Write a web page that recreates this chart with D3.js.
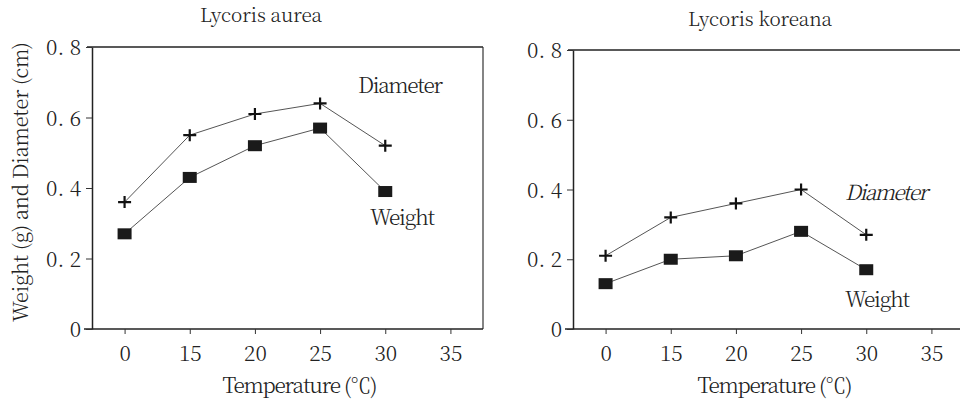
<!DOCTYPE html>
<html><head><meta charset="utf-8">
<script src="https://cdn.jsdelivr.net/npm/d3@7"></script>
</head><body style="margin:0;background:#fff"><svg id="c" width="960" height="405"></svg>
<script>
const temps = ["0","15","20","25","30","35"];
const dataTemps = ["0","15","20","25","30"];
const yTicks = [0, 0.2, 0.4, 0.6, 0.8];
const yTickLabels = ["0", "0. 2", "0. 4", "0. 6", "0. 8"];
const aureaDiameter = [0.36, 0.55, 0.61, 0.64, 0.52];
const aureaWeight = [0.27, 0.43, 0.52, 0.57, 0.39];
const koreanaDiameter = [0.21, 0.32, 0.36, 0.40, 0.27];
const koreanaWeight = [0.13, 0.20, 0.21, 0.28, 0.17];
const titles = ["Lycoris aurea", "Lycoris koreana"];
const xLabel = "Temperature (℃)";
const yLabel = "Weight (g) and Diameter (cm)";

const FONT = '"Noto Serif CJK SC", "Liberation Serif", serif';
const W = 300;
const svg = d3.select("#c");

const panels = [
  {title: titles[0], left: 92, right: 483, top: 47, bottom: 329, dia: aureaDiameter, wt: aureaWeight,
   titleX: 261, titleY: 22, titleLen: 122, xlabX: 300, xlabLen: 155, boxRight: true,
   diaLab: {x: 358, y: 93, len: 85, italic: false}, wtLab: {x: 370, y: 225, len: 65, italic: false}},
  {title: titles[1], left: 573, right: 964, top: 50, bottom: 329, dia: koreanaDiameter, wt: koreanaWeight,
   titleX: 760, titleY: 26, titleLen: 144, xlabX: 775, xlabLen: 155, boxRight: false,
   diaLab: {x: 845, y: 200, len: 83, italic: true}, wtLab: {x: 845, y: 307, len: 65, italic: false}}
];

panels.forEach((p) => {
  const x = d3.scalePoint().domain(temps).range([p.left, p.right]).padding(0.5);
  const y = d3.scaleLinear().domain([0, 0.8]).range([p.bottom, p.top]);
  const g = svg.append("g");

  g.append("line").attr("x1", p.left - 5).attr("x2", Math.min(p.right, 960)).attr("y1", y(0.8)).attr("y2", y(0.8))
    .attr("stroke", "#222").attr("stroke-width", 1.5);
  if (p.boxRight) g.append("line").attr("x1", p.right).attr("x2", p.right).attr("y1", y(0.8)).attr("y2", y(0))
    .attr("stroke", "#333").attr("stroke-width", 1.2);

  const xa = g.append("g").attr("transform", `translate(0,${p.bottom})`)
    .call(d3.axisBottom(x).tickSize(5).tickSizeOuter(0).tickPadding(9));
  xa.select(".domain").attr("stroke", "#222").attr("stroke-width", 1.5)
    .attr("d", `M${p.left - 8},0H${p.right}`);
  xa.selectAll(".tick line").attr("stroke", "#333");
  xa.selectAll(".tick text").style("font-family", FONT).style("font-size", "21px").style("font-weight", W)
    .attr("fill", "#222").attr("dy", "0.85em");

  const ya = g.append("g").attr("transform", `translate(${p.left},0)`)
    .call(d3.axisLeft(y).tickValues(yTicks).tickFormat((d, i) => yTickLabels[i]).tickSize(6).tickSizeOuter(0).tickPadding(5));
  ya.select(".domain").attr("stroke", "#222").attr("stroke-width", 1.5);
  ya.selectAll(".tick line").attr("stroke", "#333");
  ya.selectAll(".tick text").style("font-family", FONT).style("font-size", "21px").style("font-weight", W)
    .attr("fill", "#222").attr("dy", "0.36em");

  g.append("text").attr("x", p.titleX).attr("y", p.titleY).attr("text-anchor", "middle")
    .style("font-family", FONT).style("font-size", "19px").style("font-weight", W).attr("fill", "#222")
    .attr("textLength", p.titleLen).text(p.title);
  g.append("text").attr("x", p.xlabX).attr("y", 393).attr("text-anchor", "middle")
    .style("font-family", FONT).style("font-size", "21px").style("font-weight", W).attr("fill", "#222")
    .attr("textLength", p.xlabLen).text(xLabel);

  const line = d3.line().x((d, i) => x(dataTemps[i])).y(d => y(d));
  [p.dia, p.wt].forEach(s => {
    g.append("path").datum(s).attr("d", line).attr("fill", "none").attr("stroke", "#555").attr("stroke-width", 1);
  });
  g.selectAll(".plus").data(p.dia).join("path").attr("class", "plus")
    .attr("d", (d, i) => { const cx = x(dataTemps[i]), cy = y(d); return `M${cx-6.5},${cy}H${cx+6.5}M${cx},${cy-6}V${cy+6}`; })
    .attr("stroke", "#111").attr("stroke-width", 2.2).attr("fill", "none");
  g.selectAll(".sq").data(p.wt).join("rect").attr("class", "sq")
    .attr("x", (d, i) => x(dataTemps[i]) - 7).attr("y", d => y(d) - 5.5)
    .attr("width", 14).attr("height", 11).attr("fill", "#1a1a1a");

  g.append("text").attr("x", p.diaLab.x).attr("y", p.diaLab.y).style("font-family", FONT).style("font-size", "21px")
    .style("font-weight", W).style("font-style", p.diaLab.italic ? "italic" : "normal").attr("fill", "#222")
    .attr("textLength", p.diaLab.len).text("Diameter");
  g.append("text").attr("x", p.wtLab.x).attr("y", p.wtLab.y).style("font-family", FONT).style("font-size", "21px")
    .style("font-weight", W).style("font-style", p.wtLab.italic ? "italic" : "normal").attr("fill", "#222")
    .attr("textLength", p.wtLab.len).text("Weight");
});

svg.append("text").attr("transform", "translate(28,182) rotate(-90)").attr("text-anchor", "middle")
  .style("font-family", FONT).style("font-size", "20px").style("font-weight", W).attr("fill", "#222")
  .attr("textLength", 280).text(yLabel);
</script></body></html>
